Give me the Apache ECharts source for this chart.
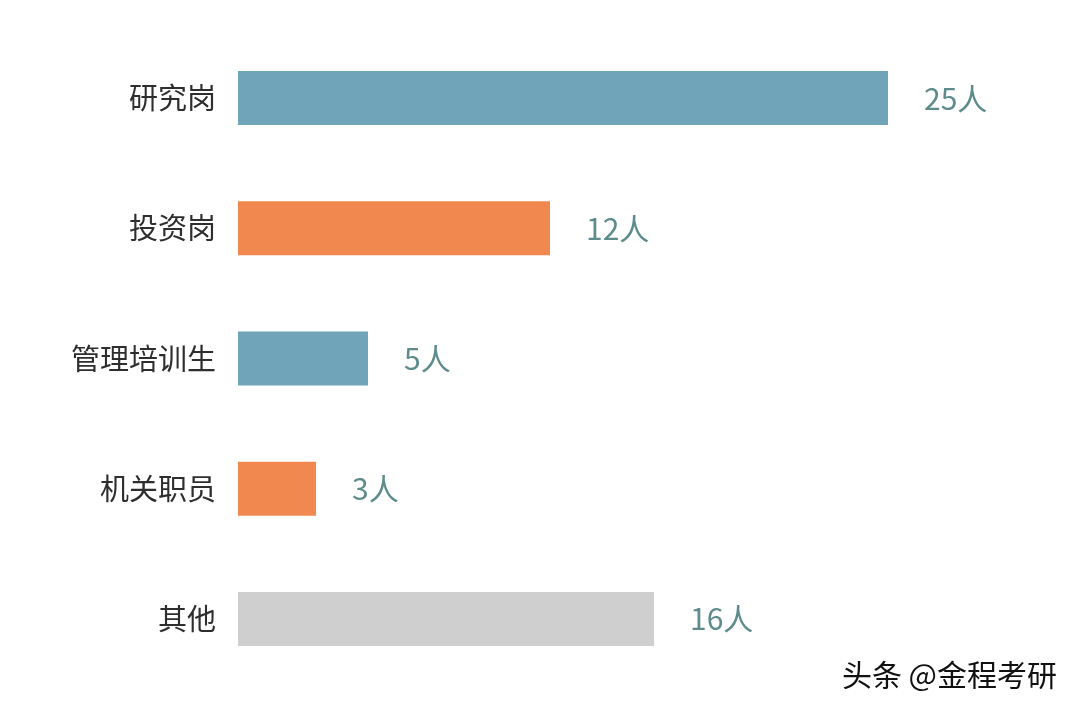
<!DOCTYPE html>
<html>
<head>
<meta charset="utf-8">
<script src="https://cdn.jsdelivr.net/npm/echarts@6/dist/echarts.min.js"></script>
<style>
html,body{margin:0;padding:0;background:#fff;}
#main{width:1080px;height:713px;}
</style>
</head>
<body>
<div id="main"></div>
<script>
const categories = ['研究岗', '投资岗', '管理培训生', '机关职员', '其他'];
const values = [25, 12, 5, 3, 16];
const barColors = ['#6fa4b9', '#f0884f', '#6fa4b9', '#f0884f', '#d0cfcf'];
const unit = '人';
const watermark = '头条 @金程考研';

const chart = echarts.init(document.getElementById('main'));
chart.setOption({
  backgroundColor: '#ffffff',
  animation: false,
  grid: { left: 238, right: 192, top: 33, bottom: 29, containLabel: false },
  xAxis: {
    type: 'value', min: 0, max: 25, show: false
  },
  yAxis: {
    type: 'category', data: categories, inverse: true,
    axisLine: { show: false }, axisTick: { show: false },
    axisLabel: {
      color: '#2e2e2e', fontSize: 29, margin: 22,
      fontFamily: 'Noto Sans CJK SC'
    }
  },
  series: [{
    type: 'bar',
    data: values.map((v, i) => ({ value: v, itemStyle: { color: barColors[i] } })),
    barWidth: 54,
    label: {
      show: true, position: 'right', distance: 36,
      formatter: p => p.value + unit,
      color: '#5e8b8c', fontSize: 30,
      fontFamily: 'Noto Sans CJK SC'
    }
  }],
  graphic: [{
    type: 'text', right: 22, top: 659,
    style: {
      text: watermark, fill: '#111', fontSize: 30,
      fontFamily: 'Noto Sans CJK SC',
      stroke: '#ffffff', lineWidth: 2
    }
  }]
});
</script>
</body>
</html>
